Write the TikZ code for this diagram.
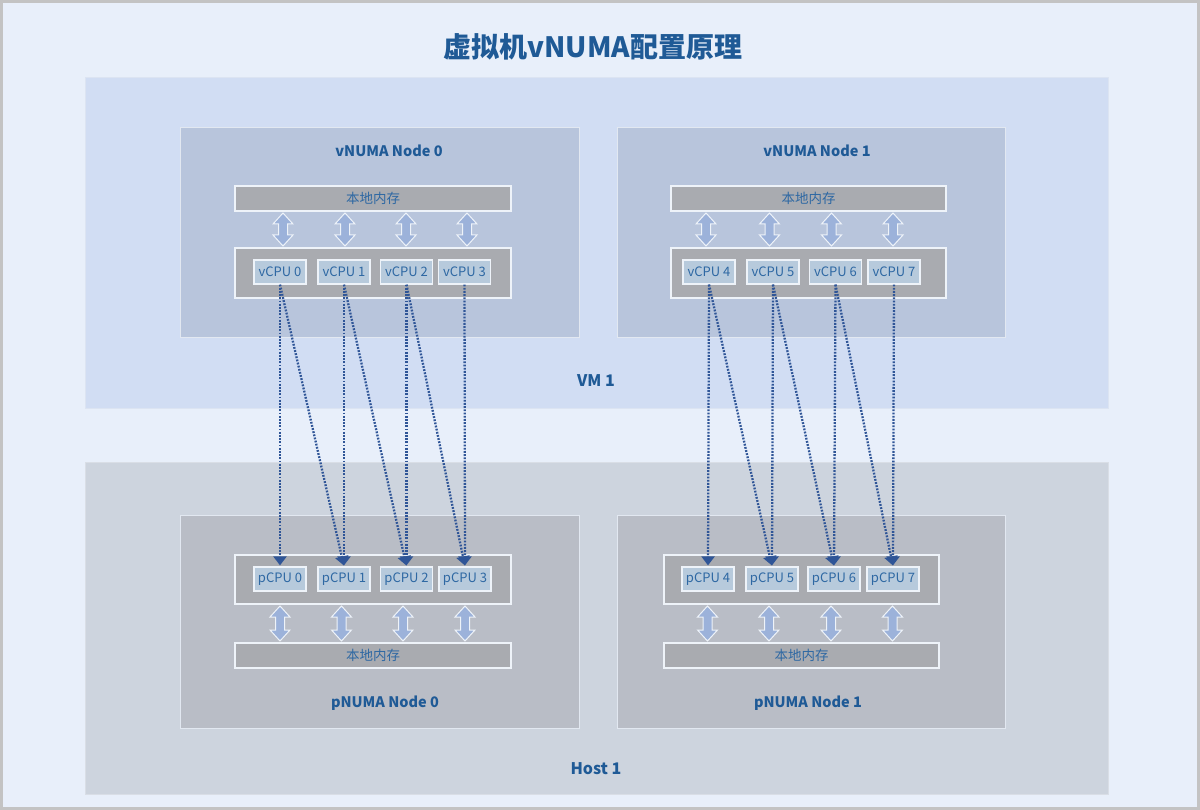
\documentclass[tikz,border=0pt]{standalone}
\usepackage{fontspec}
\setmainfont{Noto Sans CJK SC}
\usetikzlibrary{arrows.meta}
\definecolor{framegray}{HTML}{C3C3C3}
\definecolor{bgc}{HTML}{E8EFFA}
\definecolor{vmfill}{HTML}{D1DDF3}
\definecolor{vmedge}{HTML}{DCE4F2}
\definecolor{hostfill}{HTML}{CDD4DE}
\definecolor{hostedge}{HTML}{D9DEE6}
\definecolor{vnfill}{HTML}{B8C5DC}
\definecolor{pnfill}{HTML}{B9BDC6}
\definecolor{nodeedge}{HTML}{E2E8F1}
\definecolor{barfill}{HTML}{A9ABB0}
\definecolor{cpufill}{HTML}{B7CADC}
\definecolor{lightedge}{HTML}{EEF3F9}
\definecolor{titlec}{HTML}{1F5A96}
\definecolor{textc}{HTML}{2E68A3}
\definecolor{dafill}{HTML}{9CB2DA}
\definecolor{linkc}{HTML}{2F5597}
\tikzset{
  region/.style={rectangle, line width=1pt, inner sep=0pt},
  numabox/.style={rectangle, fill=#1, draw=nodeedge, line width=1pt, inner sep=0pt},
  bar/.style={rectangle, fill=barfill, draw=lightedge, line width=1.2pt, inner sep=0pt, text=textc, font=\fontsize{13.5}{15}\selectfont},
  cpubox/.style={rectangle, fill=cpufill, draw=lightedge, line width=1.2pt, inner sep=0pt, minimum width=52pt, minimum height=24pt, text=textc, font=\fontsize{13}{15}\selectfont},
  boxtitle/.style={text=titlec, font=\fontsize{14.5}{16}\selectfont\bfseries},
  regiontitle/.style={text=titlec, font=\fontsize{16}{18}\selectfont\bfseries},
  dablock/.style={fill=dafill, draw=lightedge, line width=1pt, line join=miter},
  link/.style={draw=linkc, line width=2.3pt, dash pattern=on 1.8pt off 1.4pt, -{Triangle[width=13pt,length=9pt]}, shorten >=1pt}
}
\newcommand\dblarrowat[3]{%
  \filldraw[dablock] (#1-4.5,#2+11) -- (#1-10,#2+11) -- (#1,#2) -- (#1+10,#2+11) -- (#1+4.5,#2+11)
    -- (#1+4.5,#3-11) -- (#1+10,#3-11) -- (#1,#3) -- (#1-10,#3-11) -- (#1-4.5,#3-11) -- cycle;}
\begin{document}
\begin{tikzpicture}[x=1pt,y=-1pt]
\useasboundingbox (0,0) rectangle (1200,810);
\fill[framegray] (0,0) rectangle (1200,810);
\fill[bgc] (3,3) rectangle (1197,807);

\node[text=titlec, font=\fontsize{28}{32}\selectfont\bfseries] (title) at (593,47) {虚拟机vNUMA配置原理};

% regions
\node[region, fill=vmfill, draw=vmedge, minimum width=1023pt, minimum height=330pt] (vm) at (596.5,243) {};
\node[region, fill=hostfill, draw=hostedge, minimum width=1023pt, minimum height=332pt] (host) at (596.5,628) {};
\node[regiontitle] (vmlabel) at (596,381) {VM 1};
\node[regiontitle] (hostlabel) at (596,769) {Host 1};

% vNUMA nodes
\node[numabox=vnfill, minimum width=399pt, minimum height=210pt] (vn0) at (379.5,233) {};
\node[numabox=vnfill, minimum width=388pt, minimum height=210pt] (vn1) at (811,233) {};
\node[boxtitle] (vn0t) at (389,151) {vNUMA Node 0};
\node[boxtitle] (vn1t) at (817,151) {vNUMA Node 1};

\node[bar, minimum width=276pt, minimum height=25pt] (vmem0) at (373,198.5) {本地内存};
\node[bar, minimum width=275pt, minimum height=25pt] (vmem1) at (808.5,198.5) {本地内存};
\node[bar, minimum width=276pt, minimum height=50pt] (vcont0) at (373,273) {};
\node[bar, minimum width=275pt, minimum height=50pt] (vcont1) at (808.5,273) {};

\node[cpubox] (v0) at (280,272) {vCPU 0};
\node[cpubox] (v1) at (344,272) {vCPU 1};
\node[cpubox] (v2) at (406.5,272) {vCPU 2};
\node[cpubox] (v3) at (464.5,272) {vCPU 3};
\node[cpubox] (v4) at (709,272) {vCPU 4};
\node[cpubox] (v5) at (773,272) {vCPU 5};
\node[cpubox] (v6) at (835.5,272) {vCPU 6};
\node[cpubox] (v7) at (894,272) {vCPU 7};

% pNUMA nodes
\node[numabox=pnfill, minimum width=399pt, minimum height=213pt] (pn0) at (379.5,621.5) {};
\node[numabox=pnfill, minimum width=388pt, minimum height=213pt] (pn1) at (811,621.5) {};
\node[boxtitle] (pn0t) at (385,703) {pNUMA Node 0};
\node[boxtitle] (pn1t) at (808,703) {pNUMA Node 1};

\node[bar, minimum width=276pt, minimum height=49pt] (pcont0) at (373,579.5) {};
\node[bar, minimum width=275pt, minimum height=49pt] (pcont1) at (801.5,579.5) {};
\node[bar, minimum width=276pt, minimum height=25pt] (pmem0) at (373,655.5) {本地内存};
\node[bar, minimum width=275pt, minimum height=25pt] (pmem1) at (801.5,655.5) {本地内存};

\node[cpubox] (p0) at (280,579) {pCPU 0};
\node[cpubox] (p1) at (344,579) {pCPU 1};
\node[cpubox] (p2) at (406.5,579) {pCPU 2};
\node[cpubox] (p3) at (465,579) {pCPU 3};
\node[cpubox] (p4) at (708,579) {pCPU 4};
\node[cpubox] (p5) at (772,579) {pCPU 5};
\node[cpubox] (p6) at (834,579) {pCPU 6};
\node[cpubox] (p7) at (893,579) {pCPU 7};

% memory <-> cpu block arrows
\foreach \x in {283,345,406,467,706,769.5,831.5,893} {\dblarrowat{\x}{213}{246}}
\foreach \x in {280,341.5,403,465,707.5,769,831,892.5} {\dblarrowat{\x}{606}{641}}

% vCPU -> pCPU mappings
\draw[link] (v0.south) -- (p0.north);
\draw[link] (v0.south) -- (p1.north);
\draw[link] (v1.south) -- (p1.north);
\draw[link] (v1.south) -- (p2.north);
\draw[link] (v2.south) -- (p2.north);
\draw[link] (v2.south) -- (p3.north);
\draw[link] (v3.south) -- (p3.north);
\draw[link] (v4.south) -- (p4.north);
\draw[link] (v4.south) -- (p5.north);
\draw[link] (v5.south) -- (p5.north);
\draw[link] (v5.south) -- (p6.north);
\draw[link] (v6.south) -- (p6.north);
\draw[link] (v6.south) -- (p7.north);
\draw[link] (v7.south) -- (p7.north);
\end{tikzpicture}
\end{document}
